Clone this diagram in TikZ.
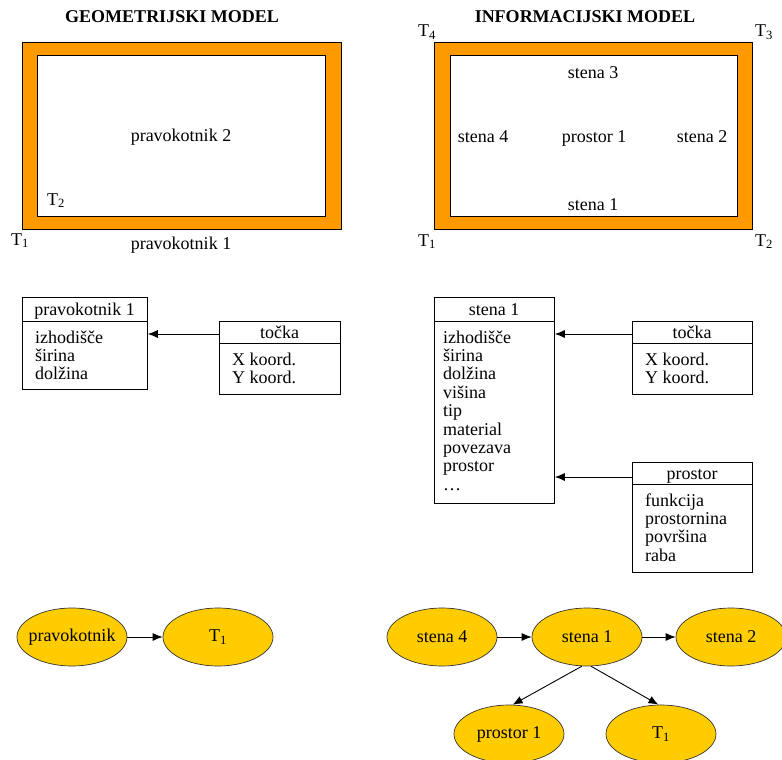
\documentclass[tikz,border=0pt]{standalone}
\usepackage{fontspec}
\setmainfont{Liberation Serif}
\usetikzlibrary{arrows.meta,shapes.geometric}
\definecolor{frameorange}{HTML}{FF9900}
\definecolor{ellgold}{HTML}{FFCC00}
\begin{document}
\begin{tikzpicture}[x=1pt,y=-1pt,
  every node/.style={font=\fontsize{18}{18.4}\selectfont, inner sep=0pt},
  lbl/.style={anchor=base},
  item/.style={anchor=base west},
  title/.style={anchor=base, font=\fontsize{18}{18}\selectfont\bfseries},
  frameout/.style={draw=black, fill=frameorange, line width=0.8pt},
  framein/.style={draw=black, fill=white, line width=0.8pt},
  classbox/.style={draw=black, line width=0.8pt, anchor=north west, inner sep=0pt},
  sepline/.style={line width=0.8pt},
  arr/.style={-{Latex[length=10pt,width=8pt]}, line width=0.9pt},
  ell/.style={ellipse, draw=black!80, fill=ellgold, minimum width=110pt, minimum height=58pt, inner sep=0pt, line width=0.7pt}
]
\useasboundingbox (0,0) rectangle (782,760);

% ---------- top left: geometric model ----------
\node[title] (tgeo) at (172,23) {GEOMETRIJSKI MODEL};
\draw[frameout] (22,42) rectangle (341,229);
\draw[framein] (37,55) rectangle (325,216);
\node[lbl] (pk2) at (181,141) {pravokotnik 2};
\node[item] (gT2) at (47,205) {T\textsubscript{2}};
\node[item] (gT1) at (11,245) {T\textsubscript{1}};
\node[lbl] (pk1) at (181,249) {pravokotnik 1};

% ---------- top right: information model ----------
\node[title] (tinf) at (585,23) {INFORMACIJSKI MODEL};
\draw[frameout] (434,42) rectangle (752,229);
\draw[framein] (450,55) rectangle (737,216);
\node[item] (iT4) at (418,37) {T\textsubscript{4}};
\node[item] (iT3) at (755,37) {T\textsubscript{3}};
\node[item] (iT1) at (418,246) {T\textsubscript{1}};
\node[item] (iT2) at (755,246) {T\textsubscript{2}};
\node[lbl] (s3) at (593,78) {stena 3};
\node[lbl] (s4) at (483,142) {stena 4};
\node[lbl] (pr) at (594,142) {prostor 1};
\node[lbl] (s2) at (702,142) {stena 2};
\node[lbl] (s1) at (593,210) {stena 1};

% ---------- middle left ----------
\node[classbox, minimum width=125pt, minimum height=92pt] (bpk) at (22,297) {};
\draw[sepline] ([yshift=-24pt]bpk.north west) -- ([yshift=-24pt]bpk.north east);
\node[lbl] at (84.5,315) {pravokotnik 1};
\foreach \t [count=\i from 0] in {izhodišče, širina, dolžina}
  \node[item] at (35,{343+18.4*\i}) {\t};

\node[classbox, minimum width=121pt, minimum height=73pt] (btk1) at (219,321) {};
\draw[sepline] ([yshift=-22pt]btk1.north west) -- ([yshift=-22pt]btk1.north east);
\node[lbl] at (279.5,338) {točka};
\foreach \t [count=\i from 0] in {X koord., Y koord.}
  \node[item] at (232,{365+18.4*\i}) {\t};

\draw[arr] ([yshift=-13pt]btk1.north west) -- ([yshift=-13pt]btk1.north west -| bpk.east);

% ---------- middle right ----------
\node[classbox, minimum width=120pt, minimum height=206pt] (bst) at (434,297) {};
\draw[sepline] ([yshift=-24pt]bst.north west) -- ([yshift=-24pt]bst.north east);
\node[lbl] at (494,315) {stena 1};
\foreach \t [count=\i from 0] in {izhodišče, širina, dolžina, višina, tip, material, povezava, prostor, \ldots}
  \node[item] at (443,{343+18.4*\i}) {\t};

\node[classbox, minimum width=120pt, minimum height=73pt] (btk2) at (632,321) {};
\draw[sepline] ([yshift=-22pt]btk2.north west) -- ([yshift=-22pt]btk2.north east);
\node[lbl] at (692,338) {točka};
\foreach \t [count=\i from 0] in {X koord., Y koord.}
  \node[item] at (645,{365+18.4*\i}) {\t};

\node[classbox, minimum width=120pt, minimum height=110pt] (bps) at (632,462) {};
\draw[sepline] ([yshift=-22pt]bps.north west) -- ([yshift=-22pt]bps.north east);
\node[lbl] at (692,479) {prostor};
\foreach \t [count=\i from 0] in {funkcija, prostornina, površina, raba}
  \node[item] at (645,{506+18.4*\i}) {\t};

\draw[arr] ([yshift=-13pt]btk2.north west) -- ([yshift=-13pt]btk2.north west -| bst.east);
\draw[arr] ([yshift=-15pt]bps.north west) -- ([yshift=-15pt]bps.north west -| bst.east);

% ---------- bottom graphs ----------
\node[ell] (epk) at (72,637) {\makebox[0pt]{pravokotnik}};
\node[ell] (eT1) at (218,637) {\makebox[0pt]{T\textsubscript{1}}};
\draw[arr] (epk) -- (eT1);

\node[ell] (es4) at (442,637) {\makebox[0pt]{stena 4}};
\node[ell] (es1) at (587,637) {\makebox[0pt]{stena 1}};
\node[ell] (es2) at (731,637) {\makebox[0pt]{stena 2}};
\node[ell] (ep1) at (509,734) {\makebox[0pt]{prostor 1}};
\node[ell] (eT1b) at (661,734) {\makebox[0pt]{T\textsubscript{1}}};
\draw[arr] (es4) -- (es1);
\draw[arr] (es1) -- (es2);
\draw[arr] (es1.260) -- (ep1.83);
\draw[arr] (es1.278) -- (eT1b.95);
\end{tikzpicture}
\end{document}
